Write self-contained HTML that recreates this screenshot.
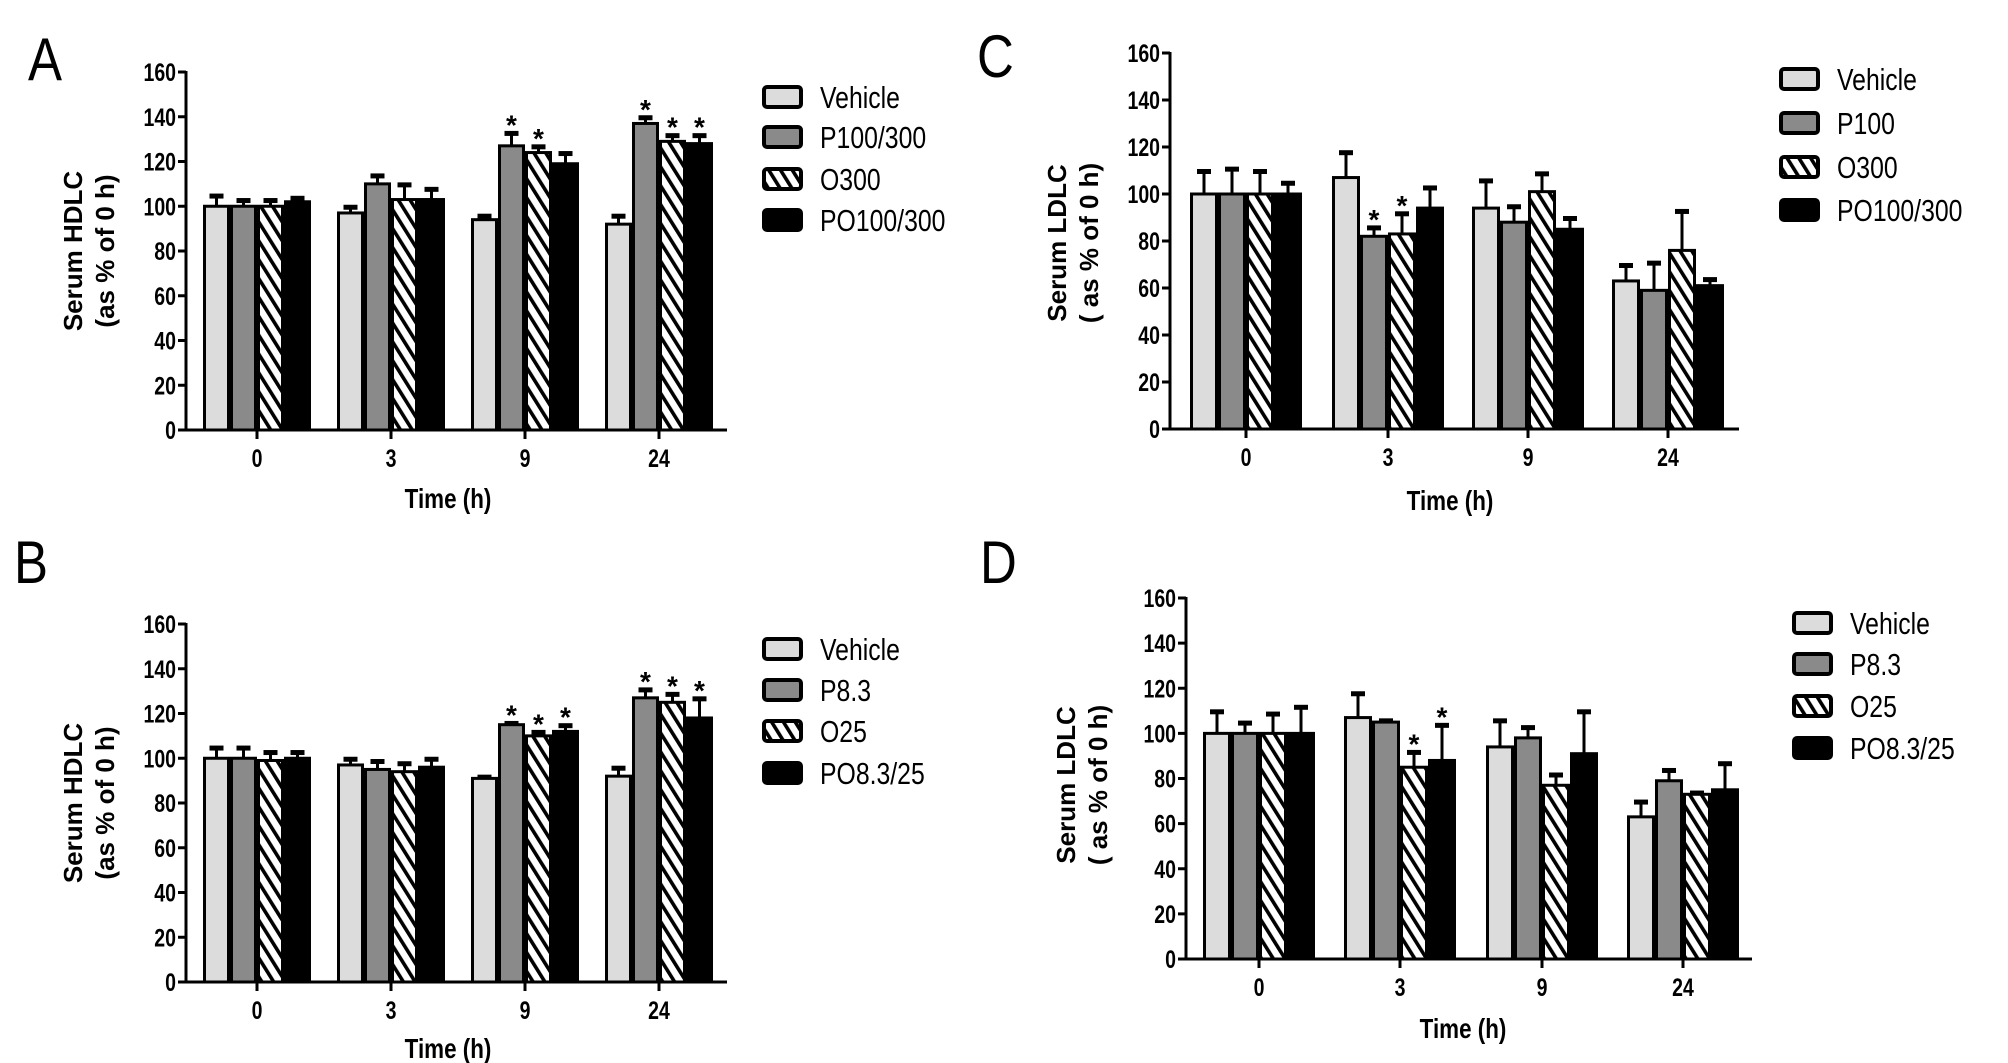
<!DOCTYPE html>
<html><head><meta charset="utf-8"><style>
html,body{margin:0;padding:0;background:#fff;}
svg{display:block;}
text{font-family:"Liberation Sans",Arial,sans-serif;}
</style></head>
<body>
<svg id="fig" xmlns="http://www.w3.org/2000/svg" width="2008" height="1063" viewBox="0 0 2008 1063">
<defs>
<pattern id="hatch" patternUnits="userSpaceOnUse" width="10" height="10" patternTransform="rotate(-32)">
<rect width="10" height="10" fill="#fff"/>
<rect x="0" y="0" width="3.6" height="10" fill="#000"/>
</pattern>
</defs>
</svg>
<script>
const categories = ["0","3","9","24"];
const yTicks = [0,20,40,60,80,100,120,140,160];

const aVehicle = [100,97,94,92], aVehicleErr = [5,3,2,4];
const aP = [100,110,127,137], aPErr = [3,4,6,3];
const aO = [100,103,124,129], aOErr = [3,7,3,3];
const aPO = [102,103,119,128], aPOErr = [2,5,5,4];
const aStars = [[0,0,0,0],[0,0,0,0],[0,1,1,0],[0,1,1,1]];
const aLegend = ["Vehicle","P100/300","O300","PO100/300"];

const bVehicle = [100,97,91,92], bVehicleErr = [5,3,1,4];
const bP = [100,95,115,127], bPErr = [5,4,1,4];
const bO = [99,94,110,125], bOErr = [4,4,2,4];
const bPO = [100,96,112,118], bPOErr = [3,4,3,9];
const bStars = [[0,0,0,0],[0,0,0,0],[0,1,1,1],[0,1,1,1]];
const bLegend = ["Vehicle","P8.3","O25","PO8.3/25"];

const cVehicle = [100,107,94,63], cVehicleErr = [10,11,12,7];
const cP = [100,82,88,59], cPErr = [11,4,7,12];
const cO = [100,83,101,76], cOErr = [10,9,8,17];
const cPO = [100,94,85,61], cPOErr = [5,9,5,3];
const cStars = [[0,0,0,0],[0,1,1,0],[0,0,0,0],[0,0,0,0]];
const cLegend = ["Vehicle","P100","O300","PO100/300"];

const dVehicle = [100,107,94,63], dVehicleErr = [10,11,12,7];
const dP = [100,105,98,79], dPErr = [5,1,5,5];
const dO = [100,85,77,73], dOErr = [9,7,5,1];
const dPO = [100,88,91,75], dPOErr = [12,16,19,12];
const dStars = [[0,0,0,0],[0,0,1,1],[0,0,0,0],[0,0,0,0]];
const dLegend = ["Vehicle","P8.3","O25","PO8.3/25"];

const NS = "http://www.w3.org/2000/svg";
const svg = document.getElementById('fig');
const fills = ["#dcdcdc","#8a8a8a","url(#hatch)","#000"];
const seriesNames = ["vehicle","p","o","po"];

function mk(tag, attrs, parent){
  const e = document.createElementNS(NS, tag);
  for (const k in attrs) e.setAttribute(k, attrs[k]);
  (parent||svg).appendChild(e);
  return e;
}
function ctext(x, y, str, size, anchor, bold, parent, sx){
  const t = mk('text', {transform:'translate(' + x + ',' + y + ') scale(' + (sx||0.78) + ',1)', 'text-anchor':anchor, 'font-size':size, 'font-weight': bold ? 'bold' : 'normal', fill:'#000'}, parent);
  t.textContent = str;
  return t;
}

function panel(cfg){
  const g = mk('g', {});
  
  
  const yScale = v => cfg.y0 - (v/160)*(cfg.y0 - cfg.y160);
  const xScale = i => cfg.gx[i];
  const bw = cfg.bw;
  const L = ctext(cfg.lx, cfg.ly, cfg.id.toUpperCase(), 60, 'start', false, g, 0.85);
  
  
  cfg.series.forEach((vals, s) => {
    vals.forEach((v, i) => {
      const cx = xScale(i) + (s - 1.5) * bw;
      const top = yScale(v);
      const errTop = yScale(v + cfg.errs[s][i]);
      const el = mk('line', {x1: cx, x2: cx, y1: top, y2: errTop, stroke:'#000', 'stroke-width':3}, g);
      
      
      const cap = mk('line', {x1: cx-7, x2: cx+7, y1: errTop+1, y2: errTop+1, stroke:'#000', 'stroke-width':5}, g);
      
      
      const r = mk('rect', {x: cx - bw/2 + 1.5, y: top, width: bw - 3, height: cfg.y0 - top, fill: fills[s], stroke:'#000', 'stroke-width':3}, g);
      
      
      if (cfg.stars[i][s]) {
        const st = mk('text', {x: cx, y: errTop + 2, 'text-anchor':'middle', 'font-size': 28, 'font-weight':'bold', fill:'#000'}, g);
        st.textContent = '*';
        
        
      }
    });
  });
  const ya = mk('line', {x1: cfg.x0, x2: cfg.x0, y1: cfg.y160 - 1, y2: cfg.y0 + 1.5, stroke:'#000', 'stroke-width':3}, g);
  
  
  const xa = mk('line', {x1: cfg.x0 - 8, x2: cfg.xEnd, y1: cfg.y0, y2: cfg.y0, stroke:'#000', 'stroke-width':3}, g);
  
  
  yTicks.forEach(t => {
    const y = yScale(t);
    const tk = mk('line', {x1: cfg.x0 - 8, x2: cfg.x0, y1: y, y2: y, stroke:'#000', 'stroke-width':3}, g);
    
    
    const tl = ctext(cfg.x0 - 10, y + 9, String(t), 25, 'end', true, g);
    
    
  });
  categories.forEach((c, i) => {
    const x = xScale(i);
    const tk = mk('line', {x1: x, x2: x, y1: cfg.y0, y2: cfg.y0 + 9, stroke:'#000', 'stroke-width':3}, g);
    
    
    const tl = ctext(x, cfg.y0 + 37, c, 25, 'middle', true, g);
    
    
  });
  const xt = ctext(cfg.xtx, cfg.xty, 'Time (h)', 28, 'middle', true, g, 0.8);
  
  
  const yt = mk('text', {transform: 'translate(' + cfg.ytx + ',' + cfg.yty + ') rotate(-90)', 'text-anchor':'middle', 'font-size': 26, 'font-weight':'bold', fill:'#000'}, g);
  const t1 = mk('tspan', {x:0, y:0}, yt); t1.textContent = cfg.yt1;
  const t2 = mk('tspan', {x:0, y:32}, yt); t2.textContent = cfg.yt2;
  
  
  cfg.legend.forEach((name, s) => {
    const y = cfg.legY[s];
    const lg = mk('g', {}, g);
    
    
    mk('rect', {x: cfg.legX + 2, y: y - 10, width: 37, height: 20, rx: 3, fill: fills[s], stroke:'#000', 'stroke-width':4}, lg);
    ctext(cfg.legX + 58, y + 11, name, 31, 'start', false, lg, 0.8);
  });
}

panel({id:'a', x0:186, xEnd:727, y0:430, y160:72, gx:[257,391,525,659], bw:27,
  series:[aVehicle,aP,aO,aPO], errs:[aVehicleErr,aPErr,aOErr,aPOErr], stars:aStars, legend:aLegend,
  legX:762, legY:[97,137,179,220], lx:28, ly:80, xtx:448, xty:508, ytx:82, yty:251,
  yt1:'Serum HDLC', yt2:'(as % of 0 h)'});
panel({id:'b', x0:186, xEnd:727, y0:982, y160:624, gx:[257,391,525,659], bw:27,
  series:[bVehicle,bP,bO,bPO], errs:[bVehicleErr,bPErr,bOErr,bPOErr], stars:bStars, legend:bLegend,
  legX:762, legY:[649,690,731,773], lx:14, ly:583, xtx:448, xty:1058, ytx:82, yty:803,
  yt1:'Serum HDLC', yt2:'(as % of 0 h)'});
panel({id:'c', x0:1170, xEnd:1739, y0:429, y160:53, gx:[1246,1388,1528,1668], bw:28,
  series:[cVehicle,cP,cO,cPO], errs:[cVehicleErr,cPErr,cOErr,cPOErr], stars:cStars, legend:cLegend,
  legX:1779, legY:[79,123,167,210], lx:977, ly:77, xtx:1450, xty:510, ytx:1066, yty:243,
  yt1:'Serum LDLC', yt2:'( as % of 0 h)'});
panel({id:'d', x0:1186, xEnd:1752, y0:959, y160:598, gx:[1259,1400,1542,1683], bw:28,
  series:[dVehicle,dP,dO,dPO], errs:[dVehicleErr,dPErr,dOErr,dPOErr], stars:dStars, legend:dLegend,
  legX:1792, legY:[623,664,706,748], lx:980, ly:583, xtx:1463, xty:1038, ytx:1075, yty:785,
  yt1:'Serum LDLC', yt2:'( as % of 0 h)'});
</script>
</body></html>
